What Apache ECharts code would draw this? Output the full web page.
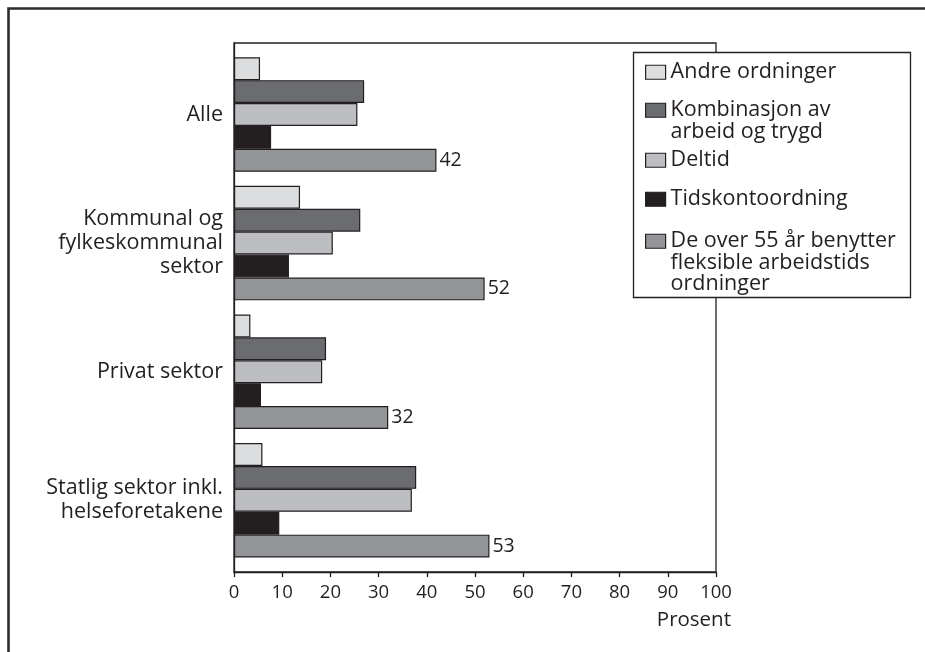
<!DOCTYPE html>
<html>
<head>
<meta charset="utf-8">
<script src="https://cdn.jsdelivr.net/npm/echarts@6/dist/echarts.min.js"></script>
<style>
  html, body { margin: 0; padding: 0; background: #fff; }
  #chart { width: 925px; height: 652px; }
</style>
</head>
<body>
<div id="chart"></div>
<script>
// Sectors (top to bottom)
const categories = [
  'Alle',
  'Kommunal og\nfylkeskommunal\nsektor',
  'Privat sektor',
  'Statlig sektor inkl.\nhelseforetakene'
];

// Shares in percent per arrangement
const andreOrdninger   = [5.4, 13.7, 3.4, 5.9];
const kombinasjon      = [27.0, 26.2, 19.1, 37.8];
const deltid           = [25.6, 20.5, 18.3, 36.9];
const tidskonto        = [7.7, 11.4, 5.6, 9.4];
const fleksibleOver55  = [42, 52, 32, 53];

const seriesNames = [
  'Andre ordninger',
  'Kombinasjon av arbeid og trygd',
  'Deltid',
  'Tidskontoordning',
  'De over 55 år benytter fleksible arbeidstids ordninger'
];
const legendLines = [
  ['Andre ordninger'],
  ['Kombinasjon av', 'arbeid og trygd'],
  ['Deltid'],
  ['Tidskontoordning'],
  ['De over 55 år benytter', 'fleksible arbeidstids', 'ordninger']
];
const xTicks = [0, 10, 20, 30, 40, 50, 60, 70, 80, 90, 100];

const seriesData = [andreOrdninger, kombinasjon, deltid, tidskonto, fleksibleOver55];
const fills = ['#dcdddf', '#6b6c70', '#bdbec1', '#231f20', '#939598'];
const ink = '#231f20';
const FONT = '"Open Sans", "Noto Sans", sans-serif';
const TEXT_SIZE = 21.5;

const chart = echarts.init(document.getElementById('chart'), null, { renderer: 'canvas' });

const LINE_H = 21.5;
const ICON_H = 14;
// swatch centres, one legend block per row
const iconCentres = [72, 110, 160, 199, 241];
const legends = legendLines.map((lines, i) => {
  const n = lines.length;
  // legend text is centred on the swatch; leading blank lines keep the
  // first text line level with the swatch and let the rest run below it
  const txt = new Array(n - 1).fill('').concat(lines).join('\n');
  const boxTop = ICON_H / 2 - (2 * n - 1) * LINE_H / 2;
  return {
    data: [seriesNames[i]],
    orient: 'vertical',
    left: 645,
    top: iconCentres[i] - ICON_H / 2 + boxTop,
    padding: 0,
    icon: 'rect',
    itemWidth: 20,
    itemHeight: ICON_H,
    selectedMode: false,
    z: 20,
    formatter: () => txt,
    textStyle: {
      color: ink,
      fontFamily: FONT,
      fontSize: TEXT_SIZE,
      lineHeight: LINE_H
    },
    itemStyle: { borderColor: ink, borderWidth: 1.2 }
  };
});

const option = {
  animation: false,
  backgroundColor: '#fff',
  textStyle: { fontFamily: FONT, color: ink },
  grid: [
    { left: 234, top: 43, width: 482, height: 529, show: true, borderColor: ink, borderWidth: 1.3, backgroundColor: 'transparent' },
    { left: 234, top: 50.2, width: 482, height: 514.4 }
  ],
  xAxis: [
    {
      gridIndex: 0, type: 'value', min: 0, max: 100, interval: 10,
      axisLine: { show: true, lineStyle: { color: ink, width: 1.3 } },
      axisTick: { show: true, inside: false, length: 5, lineStyle: { color: ink, width: 1.3 } },
      splitLine: { show: false },
      axisLabel: {
        color: ink, fontFamily: FONT, fontSize: 18.5, margin: 11,
        formatter: v => (xTicks.indexOf(v) >= 0 ? String(v) : '')
      },
      name: 'Prosent',
      nameLocation: 'end',
      nameGap: 15,
      nameTextStyle: { color: ink, fontFamily: FONT, fontSize: 20.5, align: 'right', verticalAlign: 'top', padding: [38, 0, 0, 0] }
    },
    {
      gridIndex: 1, type: 'value', min: 0, max: 100, show: false
    }
  ],
  yAxis: [
    {
      gridIndex: 0, type: 'category', data: categories, show: true,
      axisLine: { show: true, lineStyle: { color: ink, width: 1.3 } },
      axisTick: { show: false }, axisLabel: { show: false }
    },
    {
      gridIndex: 1, type: 'category', data: categories, inverse: true,
      axisLine: { show: false }, axisTick: { show: false },
      axisLabel: {
        color: ink, fontFamily: FONT, fontSize: TEXT_SIZE, lineHeight: 24, margin: 11, align: 'right'
      }
    }
  ],
  legend: legends,
  series: seriesData.map((vals, i) => ({
    name: seriesNames[i],
    type: 'bar',
    xAxisIndex: 1,
    yAxisIndex: 1,
    data: vals,
    barGap: '0%',
    barCategoryGap: '11%',
    itemStyle: { color: fills[i], borderColor: ink, borderWidth: 1.2 },
    label: i === 4 ? {
      show: true, position: 'right', distance: 3,
      color: ink, fontFamily: FONT, fontSize: 19.5
    } : { show: false }
  })),
  graphic: [
    {
      type: 'rect', z: 10,
      shape: { x: 633.5, y: 52.5, width: 277, height: 245 },
      style: { fill: '#fff', stroke: ink, lineWidth: 1.3 }
    },
    {
      type: 'polyline', z: 10,
      shape: { points: [[8.5, 660], [8.5, 8.5], [930, 8.5]] },
      style: { fill: null, stroke: '#2e2d2e', lineWidth: 2.6 }
    }
  ]
};

chart.setOption(option);
</script>
</body>
</html>
